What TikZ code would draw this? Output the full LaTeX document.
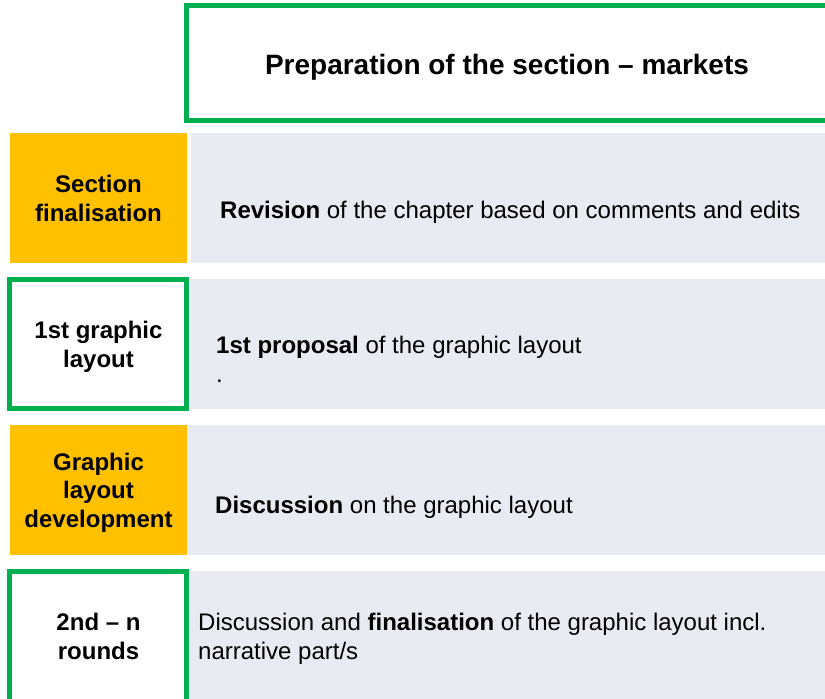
\documentclass[tikz,border=0pt]{standalone}
\usepackage{fontspec}
\setmainfont{Liberation Sans}
\definecolor{markgreen}{HTML}{00B050}
\definecolor{markyellow}{HTML}{FFC000}
\definecolor{markgrey}{HTML}{E9EBF3}
\tikzset{ % Box styles used by every row
	phase/.style={rectangle, fill=markyellow, inner sep=0pt, outer sep=0pt, anchor=north west, minimum width=177pt, minimum height=130pt},
	milestone/.style={rectangle, draw=markgreen, line width=5pt, fill=white, inner sep=0pt, outer sep=0pt, anchor=north west},
	task/.style={rectangle, fill=markgrey, inner sep=0pt, outer sep=0pt, anchor=north west, minimum width=640pt, minimum height=130pt},
	phasename/.style={font=\fontsize{24}{28.5}\selectfont\bfseries, align=center, anchor=base, inner sep=0pt},
	tasktext/.style={font=\fontsize{24}{29}\selectfont, align=left, anchor=base west, inner sep=0pt}
}
\begin{document}
\begin{tikzpicture}[x=1pt,y=-1pt]
			\useasboundingbox (0,0) rectangle (825,699);
			\clip (0,0) rectangle (825,699);
			% Title
			\node[milestone, minimum width=650pt, minimum height=115pt] (prep) at (186.5,5.5) {};
			\node[font=\fontsize{28}{33}\selectfont\bfseries, anchor=base] (prepText) at (507,74) {Preparation of the section -- markets};
			% Grey task bars
			\node[task] (finTask) at (191,133) {};
			\node[task] (firstTask) at (190,279) {};
			\node[task] (devTask) at (187,425) {};
			\node[task] (roundsTask) at (189,571) {};
			% Phase boxes
			\node[phase] (fin) at (10,133) {};
			\node[milestone, minimum width=177pt, minimum height=129pt] (first) at (9.5,279.5) {};
			\node[phase] (dev) at (10,425) {};
			\node[milestone, minimum width=177pt, minimum height=140pt] (rounds) at (9.5,571.5) {};
			% Phase names (anchored on the last line)
			\node[phasename] (finName) at (98.5,221) {Section\\finalisation};
			\node[phasename] (firstName) at (98.5,367) {1st graphic\\layout};
			\node[phasename] (devName) at (98.5,527) {Graphic\\layout\\development};
			\node[phasename] (roundsName) at (98.5,659) {2nd -- n\\rounds};
			% Task texts
			\node[tasktext] (finText) at (220,218) {\textbf{Revision} of the chapter based on comments and edits};
			\node[tasktext] (firstText) at (216,382) {\textbf{1st proposal} of the graphic layout\\.};
			\node[tasktext] (devText) at (215,513) {\textbf{Discussion} on the graphic layout};
			\node[tasktext] (roundsText) at (198,659) {Discussion and \textbf{finalisation} of the graphic layout incl.\\narrative part/s};
		\end{tikzpicture}
\end{document}
